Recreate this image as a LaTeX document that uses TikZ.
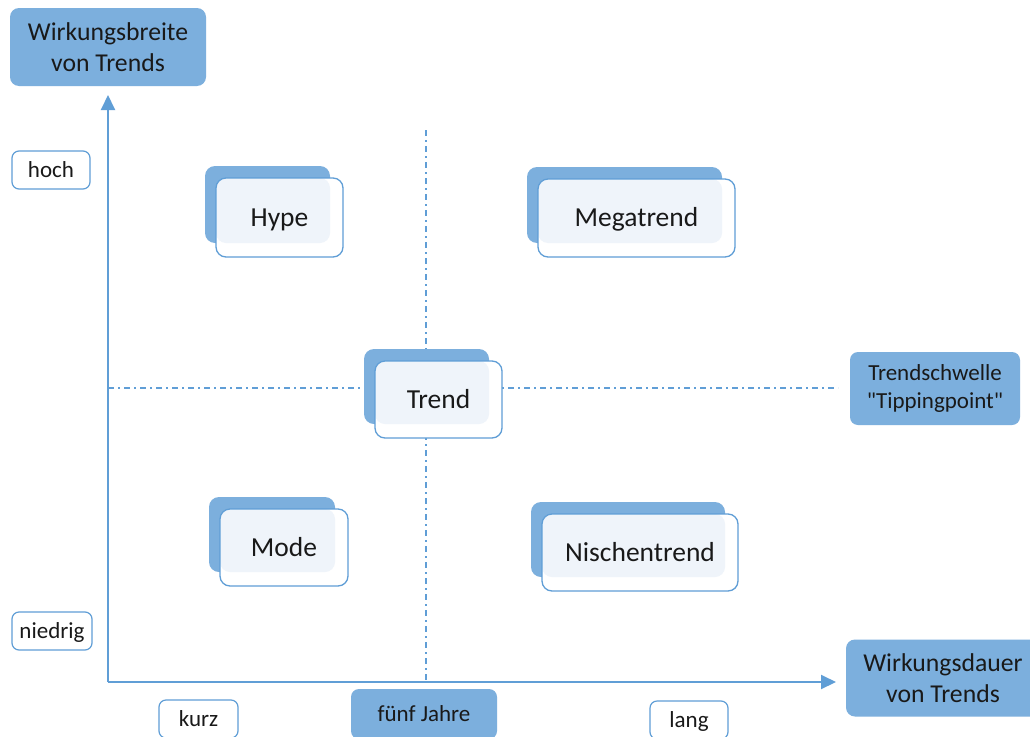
\documentclass[tikz,border=0pt]{standalone}
\usepackage{fontspec}
\setmainfont{Carlito}
\usetikzlibrary{arrows.meta}
\definecolor{boxblue}{RGB}{124,175,221}
\definecolor{lineblue}{RGB}{96,158,214}
\definecolor{lightfill}{RGB}{239,244,250}
\definecolor{txt}{RGB}{25,25,25}
\tikzset{
  backbox/.style={fill=boxblue, rounded corners=10pt, inner sep=0pt},
  frontbox/.style={draw=lineblue, line width=1.3pt, rounded corners=10pt, inner sep=0pt, text=txt, text height=17.6pt, text depth=0pt, font=\fontsize{27.5}{31}\selectfont},
  axislabel/.style={fill=boxblue, rounded corners=9pt, inner sep=0pt, text=txt, align=center, font=\fontsize{25.7}{30.5}\selectfont},
  smalllabel/.style={draw=lineblue, line width=1.2pt, fill=white, rounded corners=7pt, inner sep=0pt, text=txt, text height=14.8pt, text depth=0pt, font=\fontsize{23}{28}\selectfont},
  bluelabel/.style={fill=boxblue, rounded corners=8pt, inner sep=0pt, text=txt, align=center, font=\fontsize{23}{27.5}\selectfont},
  axisline/.style={draw=lineblue, line width=2pt, -{Triangle[length=15pt, width=14pt]}},
  guide/.style={draw=lineblue, line width=1.5pt, dash pattern=on 6pt off 4pt on 2pt off 4pt},
}
% name, x, y, w, h, text
\newcommand\stackbox[6]{%
  \node[backbox, minimum width=#4pt-2pt, minimum height=#5pt-2pt] (#1-back) at (#2-12,#3-13) {};
  \fill[white, rounded corners=10pt] (#2-#4/2,#3-#5/2) rectangle (#2+#4/2,#3+#5/2);
  \fill[lightfill, rounded corners=10pt] (#2-#4/2,#3-#5/2) rectangle (#2+#4/2-13,#3+#5/2-14);
  \node[frontbox, minimum width=#4pt, minimum height=#5pt] (#1) at (#2,#3) {#6};
}
\begin{document}
\begin{tikzpicture}[x=1pt, y=-1pt]
\clip (0,0) rectangle (1030,736);
\fill[white] (0,0) rectangle (1030,736);

% guides
\coordinate (vtop) at (426,130);
\coordinate (vbot) at (426,682);
\coordinate (hl) at (108,388);
\coordinate (hr) at (838,388);
\draw[guide] (vtop) -- (vbot);
\draw[guide] (hl) -- (hr);

% axes
\coordinate (O) at (108,682);
\coordinate (ytip) at (108,95);
\coordinate (xtip) at (836,682);
\draw[axisline] (O) -- (ytip);
\draw[axisline] (O) -- (xtip);

% axis labels
\node[axislabel, minimum width=196pt, minimum height=78pt] (ylab) at (108,47) {Wirkungsbreite\\von Trends};
\node[axislabel, minimum width=194pt, minimum height=77pt] (xlab) at (943,678) {Wirkungsdauer\\von Trends};
\node[bluelabel, minimum width=170pt, minimum height=73pt] (schwelle) at (935,388.5) {Trendschwelle\\\textquotedbl Tippingpoint\textquotedbl};

% scale labels
\node[smalllabel, minimum width=78pt, minimum height=38pt] (hoch) at (51,170) {hoch};
\node[smalllabel, minimum width=80pt, minimum height=38pt] (niedrig) at (52,631) {niedrig};
\node[smalllabel, minimum width=79pt, minimum height=38pt] (kurz) at (198.5,719) {kurz};
\node[bluelabel, text height=14.8pt, text depth=0pt, minimum width=146pt, minimum height=50pt] (fuenf) at (424,714) {fünf Jahre};
\node[smalllabel, minimum width=78pt, minimum height=38pt] (lang) at (689,720) {lang};

% trend boxes
\stackbox{hype}{279.5}{217.5}{127}{79}{Hype}
\stackbox{mega}{636.5}{218}{197}{78}{Megatrend}
\stackbox{trend}{438.5}{399.5}{127}{77}{Trend}
\stackbox{mode}{284}{547.5}{128}{77}{Mode}
\stackbox{nische}{640}{552.5}{196}{77}{Nischentrend}
\end{tikzpicture}
\end{document}
